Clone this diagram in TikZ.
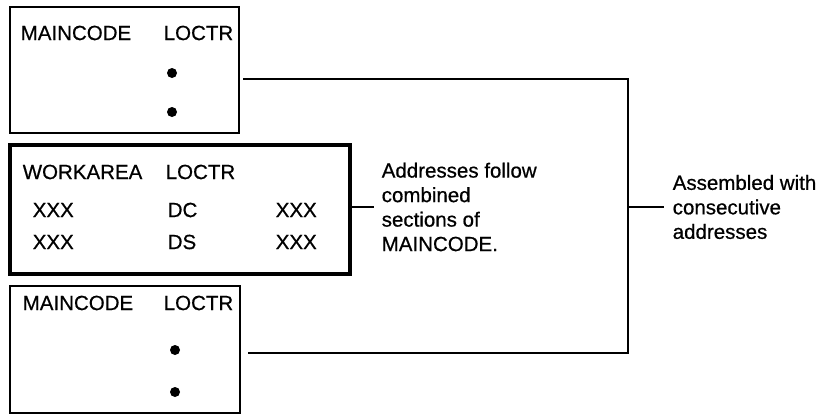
\documentclass[tikz,border=0pt]{standalone}
\usepackage{fontspec}
\setmainfont[FakeBold=0.6]{Liberation Sans}
\usetikzlibrary{positioning}

\tikzset{
  lbl/.style={anchor=west, inner sep=0pt, font=\fontsize{20.5}{24.5}\selectfont},
  note/.style={lbl, align=left},
  dot/.style={circle, fill, inner sep=0pt, minimum size=10pt},
}

\begin{document}
\begin{tikzpicture}[x=1pt,y=-1pt,line width=1.5pt]
    \useasboundingbox (0,0) rectangle (819,415);

    % Upper MAINCODE section
    \draw (10,7) rectangle (239,133);
    \node[lbl] (maina) at (20,33) {MAINCODE};
    \node[lbl] (loca) at (163,33) {LOCTR};
    \node[dot] (dota1) at (172,73) {};
    \node[dot] (dota2) at (172,112) {};

    % WORKAREA section
    \draw[line width=3.5pt] (10,145) rectangle (350,274);
    \node[lbl] (work) at (22,172) {WORKAREA};
    \node[lbl] (locw) at (165,172) {LOCTR};
    \node[lbl] (xa) at (32,210) {XXX};
    \node[lbl] (dc) at (167,210) {DC};
    \node[lbl] (xb) at (275,210) {XXX};
    \node[lbl] (xc) at (32,242) {XXX};
    \node[lbl] (ds) at (167,242) {DS};
    \node[lbl] (xd) at (275,242) {XXX};

    % Lower MAINCODE section
    \draw (10,286) rectangle (240,413);
    \node[lbl] (mainb) at (22,303) {MAINCODE};
    \node[lbl] (locb) at (163,303) {LOCTR};
    \node[dot] (dotb1) at (175,350) {};
    \node[dot] (dotb2) at (175,392) {};

    % Notes
    \node[note] (follow) at (381,207) {Addresses follow\\combined\\sections of\\MAINCODE.};
    \node[note] (consec) at (672,207) {Assembled with\\consecutive\\addresses};

    % Connectors
    \coordinate (topend) at (243,79);
    \coordinate (botend) at (248,353);
    \coordinate (topcorner) at (628,79);
    \coordinate (botcorner) at (628,353);
    \coordinate (workend) at (352,207);
    \draw (topend) -- (topcorner) -- (botcorner) -- (botend);
    \draw (topcorner |- consec.west) -- ([xshift=-8pt]consec.west);
    \draw (workend) -- ([xshift=-7pt]follow.west);
\end{tikzpicture}
\end{document}
